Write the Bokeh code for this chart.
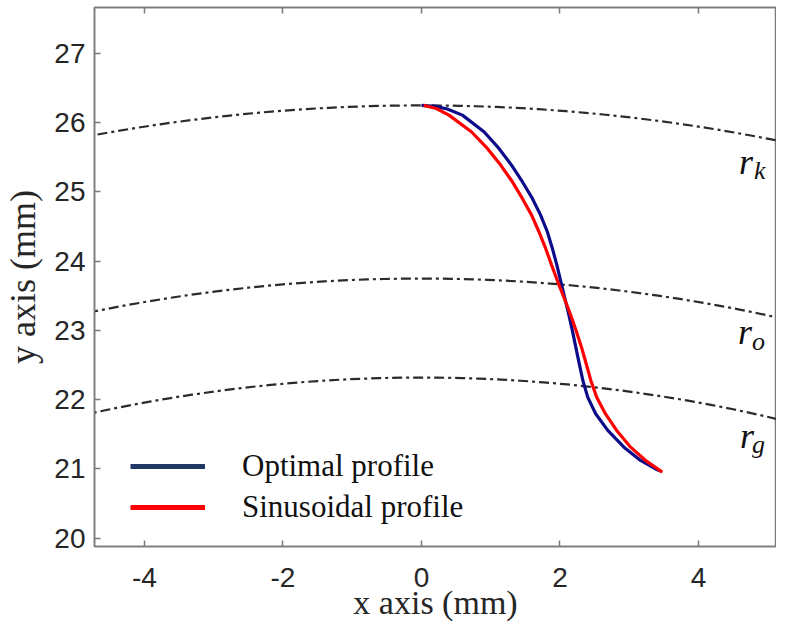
import numpy as np
from bokeh.plotting import figure
from bokeh.models import Range1d, LinearAxis, Legend, LegendItem, FixedTicker
from bokeh.core.properties import value
from bokeh.embed import file_html
from bokeh.resources import INLINE

# ---------------- data ----------------
x_ticks = [-4, -2, 0, 2, 4]
x_tick_labels = ["-4", "-2", "0", "2", "4"]
y_ticks = [20, 21, 22, 23, 24, 25, 26, 27]

optimal_x = [0.0, 0.2, 0.373, 0.590, 0.902, 1.118, 1.300, 1.456, 1.601, 1.720, 1.817, 1.890, 1.955, 2.012,
             2.066, 2.124, 2.178, 2.228, 2.278, 2.330, 2.400, 2.515, 2.690, 2.923, 3.164, 3.406, 3.46]
optimal_y = [26.25, 26.236, 26.198, 26.110, 25.870, 25.629, 25.388, 25.148, 24.907, 24.666, 24.426, 24.185, 23.944, 23.704,
             23.481, 23.242, 23.001, 22.759, 22.520, 22.279, 22.037, 21.798, 21.557, 21.315, 21.123, 20.989, 20.965]

sinus_x = [0.031, 0.214, 0.396, 0.720, 0.951, 1.143, 1.312, 1.456, 1.590, 1.696, 1.793, 1.879, 1.968,
           2.055, 2.148, 2.232, 2.310, 2.378, 2.445, 2.530, 2.655, 2.818, 3.020, 3.237, 3.478]
sinus_y = [26.25, 26.206, 26.110, 25.870, 25.629, 25.388, 25.148, 24.907, 24.666, 24.426, 24.185, 23.944, 23.704,
           23.481, 23.242, 23.001, 22.759, 22.520, 22.279, 22.037, 21.798, 21.557, 21.315, 21.123, 20.954]

circle_radii = [26.25, 23.75, 22.32]          # r_k, r_o, r_g
label_main = ["r", "r", "r"]
label_sub = ["k", "o", "g"]
label_x = [4.585, 4.571, 4.60]
label_y = [25.433, 22.976, 21.47]
sub_x = [4.80, 4.772, 4.772]
sub_y = [25.303, 22.846, 21.36]

legend_labels = ["Optimal profile", "Sinusoidal profile"]

# ---------------- layout ----------------
PX = 69.25
FW, FH = 682, 539
x0 = -4.722
y1 = 27.664
x_range = Range1d(x0, x0 + FW / PX)
y_range = Range1d(y1 - FH / PX, y1)

p = figure(frame_width=FW, frame_height=FH, x_range=x_range, y_range=y_range,
           output_backend="svg", toolbar_location=None,
           min_border_left=94, min_border_right=0, min_border_top=7, min_border_bottom=79)
p.grid.visible = False
p.outline_line_color = "#7a7a7a"
p.outline_line_width = 1.5
p.background_fill_color = "white"
p.border_fill_color = "white"

axis_col = "#7a7a7a"
text_col = "#262626"
for ax in [p.xaxis[0], p.yaxis[0]]:
    ax.axis_line_color = axis_col
    ax.axis_line_width = 1.5
    ax.major_tick_line_color = axis_col
    ax.major_tick_line_width = 1.5
    ax.major_tick_in = 6
    ax.major_tick_out = 0
    ax.minor_tick_line_color = None
    ax.major_label_text_font = "Liberation Sans"
    ax.major_label_text_font_size = "28px"
    ax.major_label_text_color = text_col
    ax.axis_label_text_font = "Liberation Serif"
    ax.axis_label_text_font_size = "34px"
    ax.axis_label_text_font_style = "normal"
    ax.axis_label_text_color = text_col

p.yaxis[0].axis_label_text_font_size = "36px"
p.xaxis[0].ticker = FixedTicker(ticks=x_ticks)
p.xaxis[0].major_label_overrides = dict(zip(x_ticks, x_tick_labels))
p.yaxis[0].ticker = FixedTicker(ticks=y_ticks)
p.xaxis[0].axis_label = "x axis (mm)"
p.yaxis[0].axis_label = "y axis (mm)"
p.xaxis[0].major_label_standoff = 21
p.xaxis[0].axis_label_standoff = -6
p.yaxis[0].major_label_standoff = 9
p.yaxis[0].axis_label_standoff = 8

top = LinearAxis(ticker=FixedTicker(ticks=x_ticks))
top.axis_line_color = axis_col
top.axis_line_width = 1.5
top.major_tick_line_color = axis_col
top.major_tick_line_width = 1.5
top.major_tick_in = 6
top.major_tick_out = 0
top.minor_tick_line_color = None
top.major_label_overrides = {t: "" for t in x_ticks}
top.major_label_text_font_size = "1px"
top.major_label_standoff = 0
p.add_layout(top, "above")

# reference circles
p.arc(x=0, y=0, radius=circle_radii, start_angle=np.pi / 2 - 0.3, end_angle=np.pi / 2 + 0.3,
      line_color="#2b2b2b", line_width=2.2, line_dash="10 4 3 4")

# profiles
p.line(optimal_x, optimal_y, line_color="#0c0c8a", line_width=3.2)
p.line(sinus_x, sinus_y, line_color="#ff0000", line_width=3.2)

# labels
p.text(x=label_x, y=label_y, text=label_main, text_font=value("Liberation Serif"),
       text_font_style="italic", text_font_size="36px", text_color="#111111",
       text_align="left", text_baseline="alphabetic")
p.text(x=sub_x, y=sub_y, text=label_sub, text_font=value("Liberation Serif"),
       text_font_style="italic", text_font_size="26px", text_color="#111111",
       text_align="left", text_baseline="alphabetic")

# legend (entries drawn from line renderers holding no visible points)
r1 = p.line(np.array([np.nan]), np.array([np.nan]), line_color="#203864", line_width=5)
r2 = p.line(np.array([np.nan]), np.array([np.nan]), line_color="#ff0000", line_width=5)
legend = Legend(items=[LegendItem(label=legend_labels[0], renderers=[r1]),
                       LegendItem(label=legend_labels[1], renderers=[r2])],
                location=(36, 21), glyph_width=75, glyph_height=20, label_standoff=37,
                spacing=5, padding=0, margin=0, border_line_alpha=0, background_fill_alpha=0,
                label_text_font="Liberation Serif", label_text_font_size="31px",
                label_text_color="#111111")
p.add_layout(legend)

open("out.html", "w").write(file_html(p, INLINE))
